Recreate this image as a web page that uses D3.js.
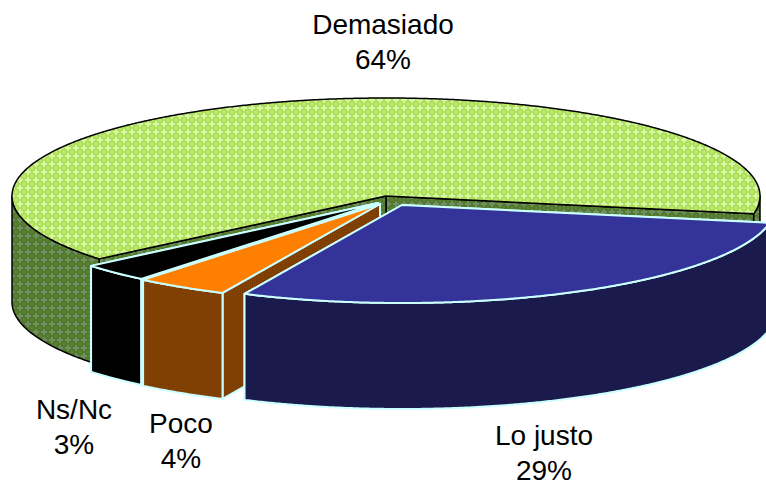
<!DOCTYPE html>
<html>
<head>
<meta charset="utf-8">
<script src="https://cdn.jsdelivr.net/npm/d3@7"></script>
<style>
  html, body { margin: 0; padding: 0; background: #fff; overflow: hidden; }
  text { font-family: "Liberation Sans", Arial, sans-serif; font-size: 28px; fill: #000; text-anchor: middle; }
</style>
</head>
<body>
<div id="chart"></div>
<script>
// Data
var categories = ["Lo justo", "Poco", "Ns/Nc", "Demasiado"];
var percents = [29, 4, 3, 64];

// Layout
var svgWidth = 766;
var svgHeight = 482;
var rx = 374;
var ry = 98;
var depth = 106;
// where each slice's apex sits once exploded
var apexX = [402, 380, 378, 386];
var apexY = [205, 204, 203, 196];
var labelX = [544, 181, 74, 383];
var labelY = [445, 433, 419, 34];
var lineGap = 35;

var topFill = ["#333399", "#ff8000", "#000000", "url(#greenTop)"];
var sideFill = ["#1a1a4d", "url(#brownSide)", "#000000", "url(#greenSide)"];
var edgeColor = ["#ccffff", "#ccffff", "#ccffff", "#000000"];

var svg = d3.select("#chart")
  .append("svg")
  .attr("width", svgWidth)
  .attr("height", svgHeight);

// Hatched fills
var defs = svg.append("defs");

function addPattern(id, size, base, spots) {
  var p = defs.append("pattern")
    .attr("id", id)
    .attr("patternUnits", "userSpaceOnUse")
    .attr("width", size)
    .attr("height", size);
  p.append("rect").attr("width", size).attr("height", size).attr("fill", base);
  spots.forEach(function(s) {
    p.append("rect")
      .attr("x", s[0]).attr("y", s[1])
      .attr("width", s[2]).attr("height", s[3])
      .attr("fill", s[4]);
  });
}

// plus shaped light spots on a checked ground
addPattern("greenTop", 8, "#b0df58", [
  [1, 3, 6, 2, "#d4f8a8"], [3, 1, 2, 6, "#d4f8a8"],
  [7, 7, 2, 2, "#c6ee88"], [0, 0, 1, 1, "#c6ee88"], [7, 0, 1, 1, "#c6ee88"], [0, 7, 1, 1, "#c6ee88"]
]);
addPattern("greenSide", 8, "#527a28", [
  [1, 3, 6, 2, "#6f8f68"], [3, 1, 2, 6, "#6f8f68"],
  [0, 0, 1, 1, "#5f8444"], [7, 7, 1, 1, "#5f8444"], [7, 0, 1, 1, "#5f8444"], [0, 7, 1, 1, "#5f8444"]
]);
addPattern("brownSide", 2, "#803f00", [
  [0, 0, 1, 1, "#7a3c00"], [1, 1, 1, 1, "#8a4600"]
]);

// d3.pie angles run clockwise from 12 o'clock, the first slice starts just under 3 o'clock
var pieData = d3.pie().sort(null).startAngle(100.5 * Math.PI / 180).endAngle(460.5 * Math.PI / 180)(percents);

var line = d3.line().curve(d3.curveLinear);

function rimPoint(i, a) {
  return [apexX[i] + rx * Math.sin(a), apexY[i] - ry * Math.cos(a)];
}

function drop(p) {
  return [p[0], p[1] + depth];
}

function rimPoints(i, a0, a1) {
  var n = Math.max(2, Math.ceil((a1 - a0) * 180));
  return d3.range(n + 1).map(function(k) {
    return rimPoint(i, a0 + (a1 - a0) * k / n);
  });
}

// front half of the ellipse only, that is where the outer wall can be seen
var frontSpans = [[Math.PI / 2, 3 * Math.PI / 2], [5 * Math.PI / 2, 7 * Math.PI / 2]];

function drawSlice(d, i) {
  var g = svg.append("g")
    .attr("stroke", edgeColor[i])
    .attr("stroke-width", i == 3 ? 1.5 : 2)
    .attr("stroke-linejoin", "round");
  var apex = [apexX[i], apexY[i]];

  // cut faces, end one first so the start one covers it
  [d.endAngle, d.startAngle].forEach(function(a) {
    var p = rimPoint(i, a);
    g.append("path")
      .attr("d", line([apex, p, drop(p), drop(apex)]) + "Z")
      .attr("fill", sideFill[i]);
  });

  // outer wall
  frontSpans.forEach(function(span) {
    var a0 = Math.max(d.startAngle, span[0]);
    var a1 = Math.min(d.endAngle, span[1]);
    if (a1 <= a0) return;
    var pts = rimPoints(i, a0, a1);
    g.append("path")
      .attr("d", line(pts.concat(pts.map(drop).reverse())) + "Z")
      .attr("fill", sideFill[i]);
  });

  // top face
  g.append("path")
    .attr("d", line([apex].concat(rimPoints(i, d.startAngle, d.endAngle))) + "Z")
    .attr("fill", topFill[i]);
}

// back to front
[3, 2, 1, 0].forEach(function(i) {
  drawSlice(pieData[i], i);
});

// Labels
categories.forEach(function(c, i) {
  svg.append("text").attr("x", labelX[i]).attr("y", labelY[i]).text(c);
  svg.append("text").attr("x", labelX[i]).attr("y", labelY[i] + lineGap).text(percents[i] + "%");
});
</script>
</body>
</html>
